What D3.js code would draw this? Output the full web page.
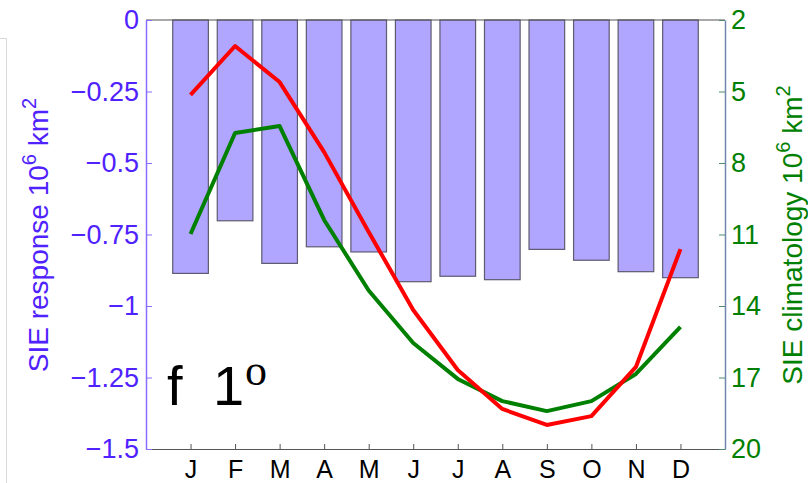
<!DOCTYPE html>
<html>
<head>
<meta charset="utf-8">
<script src="https://cdn.jsdelivr.net/npm/d3@7"></script>
<style>
  body { margin: 0; background: #fff; }
  svg { display: block; font-family: "Liberation Sans", Arial, sans-serif; }
</style>
</head>
<body>
<div id="chart"></div>
<script>
// Data
const months = ["J", "F", "M", "A", "M", "J", "J", "A", "S", "O", "N", "D"];
const responseBars = [-0.886, -0.702, -0.851, -0.793, -0.811, -0.915, -0.896, -0.908, -0.802, -0.840, -0.880, -0.901];
const responseLine = [-0.262, -0.091, -0.217, -0.462, -0.741, -1.014, -1.224, -1.360, -1.416, -1.385, -1.213, -0.801];
const climatology = [10.98, 6.74, 6.45, 10.39, 13.35, 15.55, 17.06, 17.99, 18.41, 17.99, 16.85, 14.88];
const leftTicks = [0, -0.25, -0.5, -0.75, -1, -1.25, -1.5];
const leftTickLabels = ["0", "\u22120.25", "\u22120.5", "\u22120.75", "\u22121", "\u22121.25", "\u22121.5"];
const rightTicks = [2, 5, 8, 11, 14, 17, 20];

const width = 808, height = 483;
const plotLeft = 146, plotRight = 725, plotTop = 20, plotBottom = 449;
const leftColor = "#4f22ff";
const greenColor = "#008000";

const svg = d3.select("#chart").append("svg")
  .attr("width", width)
  .attr("height", height);

// faint frame edge at far left
svg.append("path")
  .attr("d", `M0,38.5 H6.5 V${height}`)
  .attr("fill", "none")
  .attr("stroke", "#d8d8d8")
  .attr("stroke-width", 1);

const x = d3.scaleLinear().domain([0, 13]).range([plotLeft, plotRight]);
const yL = d3.scaleLinear().domain([-1.5, 0]).range([plotBottom, plotTop]);
const yR = d3.scaleLinear().domain([2, 20]).range([plotTop, plotBottom]);

// Bars
svg.append("g").selectAll("rect")
  .data(responseBars)
  .join("rect")
  .attr("x", (d, i) => x(i + 1 - 0.4))
  .attr("y", yL(0))
  .attr("width", x(0.8) - x(0))
  .attr("height", d => yL(d) - yL(0))
  .attr("fill", "#b0a5ff")
  .attr("stroke", "#5e5a70")
  .attr("stroke-width", 1.2);

// Lines
const redLine = d3.line().x((d, i) => x(i + 1)).y(d => yL(d));
const greenLine = d3.line().x((d, i) => x(i + 1)).y(d => yR(d));

svg.append("path")
  .attr("d", greenLine(climatology))
  .attr("fill", "none")
  .attr("stroke", greenColor)
  .attr("stroke-width", 4)
  .attr("stroke-linejoin", "round");

svg.append("path")
  .attr("d", redLine(responseLine))
  .attr("fill", "none")
  .attr("stroke", "#ff0000")
  .attr("stroke-width", 4)
  .attr("stroke-linejoin", "round");

// Top border
svg.append("line")
  .attr("x1", plotLeft).attr("x2", plotRight)
  .attr("y1", plotTop).attr("y2", plotTop)
  .attr("stroke", "#555")
  .attr("stroke-width", 1.2);

// Bottom axis
const xAxis = svg.append("g")
  .attr("transform", `translate(0,${plotBottom})`)
  .call(d3.axisBottom(x)
    .tickValues(d3.range(1, 13))
    .tickFormat(d => months[d - 1])
    .tickSize(-5)
    .tickSizeOuter(0)
    .tickPadding(11));
xAxis.select(".domain").attr("stroke", "#555").attr("stroke-width", 1.2);
xAxis.selectAll(".tick line").attr("stroke", "#555");
xAxis.selectAll(".tick text")
  .attr("fill", "#000")
  .attr("font-size", 25)
  .attr("font-family", "Liberation Sans, Arial, sans-serif");

// Left axis
const yAxisL = svg.append("g")
  .attr("transform", `translate(${plotLeft},0)`)
  .call(d3.axisLeft(yL)
    .tickValues(leftTicks)
    .tickFormat((d, i) => leftTickLabels[i])
    .tickSize(-6)
    .tickSizeOuter(0)
    .tickPadding(7));
yAxisL.select(".domain").attr("stroke", "#8a6cff").attr("stroke-width", 1.5);
yAxisL.selectAll(".tick line").attr("stroke", "#8a6cff");
yAxisL.selectAll(".tick text")
  .attr("fill", leftColor)
  .attr("font-size", 27)
  .attr("font-family", "Liberation Sans, Arial, sans-serif");

// Right axis
const yAxisR = svg.append("g")
  .attr("transform", `translate(${plotRight},0)`)
  .call(d3.axisRight(yR)
    .tickValues(rightTicks)
    .tickSize(-6)
    .tickSizeOuter(0)
    .tickPadding(6));
yAxisR.select(".domain").attr("stroke", "#6f86b0").attr("stroke-width", 1.5);
yAxisR.selectAll(".tick line").attr("stroke", "#4f8a6a");
yAxisR.selectAll(".tick text")
  .attr("fill", greenColor)
  .attr("font-size", 27)
  .attr("font-family", "Liberation Sans, Arial, sans-serif");

// Axis titles
function axisTitle(tx, ty, label, color) {
  const t = svg.append("text")
    .attr("transform", `translate(${tx},${ty}) rotate(-90)`)
    .attr("text-anchor", "middle")
    .attr("fill", color)
    .attr("font-size", 28);
  t.append("tspan").text(label + " 10");
  t.append("tspan").attr("font-size", 20).attr("dy", -12).text("6");
  t.append("tspan").attr("dy", 12).text(" km");
  t.append("tspan").attr("font-size", 20).attr("dy", -12).text("2");
}
axisTitle(48, 235, "SIE response", leftColor);
axisTitle(802, 235, "SIE climatology", greenColor);

// Panel label
svg.append("text")
  .attr("x", 167).attr("y", 405)
  .attr("font-size", 56)
  .attr("fill", "#000")
  .text("f");
svg.append("text")
  .attr("x", 213).attr("y", 405)
  .attr("font-size", 56)
  .attr("fill", "#000")
  .text("1");
svg.append("text")
  .attr("x", 245).attr("y", 385)
  .attr("font-size", 44)
  .attr("font-family", "Liberation Serif, Times New Roman, serif")
  .attr("fill", "#000")
  .text("o");
</script>
</body>
</html>
